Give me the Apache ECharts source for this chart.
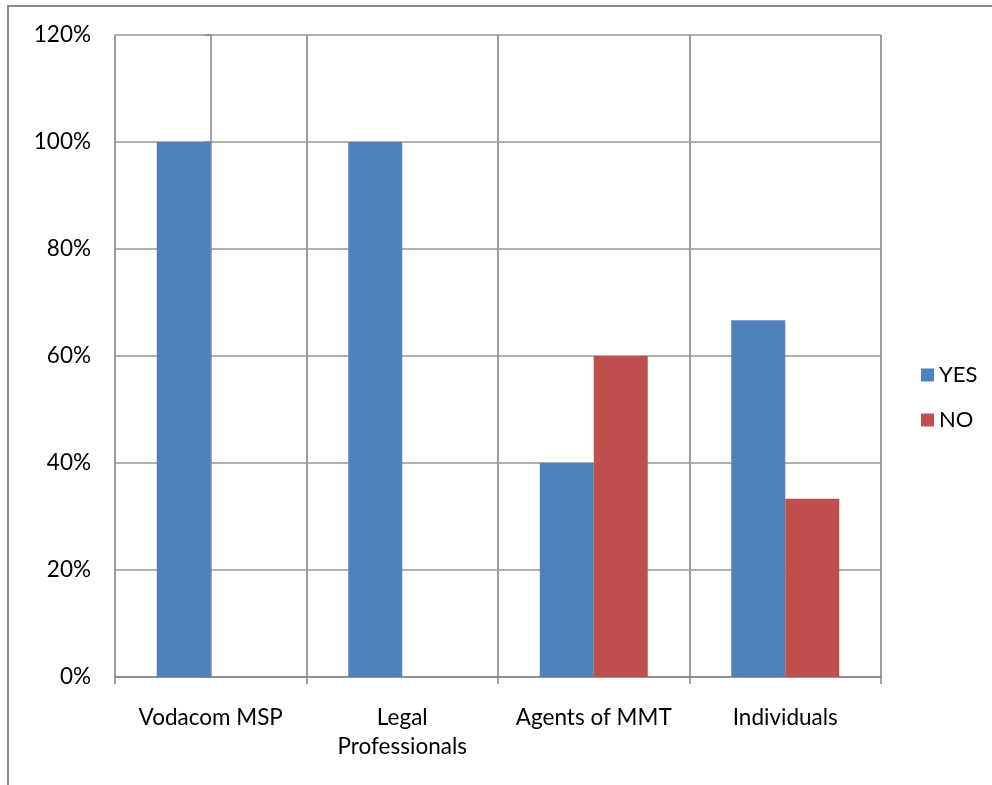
<!DOCTYPE html>
<html>
<head>
<meta charset="utf-8">
<script src="https://cdn.jsdelivr.net/npm/echarts@6/dist/echarts.min.js"></script>
<style>
  html, body { margin: 0; padding: 0; background: #ffffff; }
  #chart { width: 992px; height: 785px; }
</style>
</head>
<body>
<div id="chart"></div>
<script>
// Survey groups and the share answering YES / NO (percent)
const categories = ['Vodacom MSP', 'Legal\nProfessionals', 'Agents of MMT', 'Individuals'];
const yesValues = [100, 100, 40, 66.67];
const noValues = [0, 0, 60, 33.33];
const seriesNames = ['YES', 'NO'];
const yTicks = [0, 20, 40, 60, 80, 100, 120];

const FONT = 'Lato, "Open Sans", sans-serif';
const chart = echarts.init(document.getElementById('chart'));

chart.setOption({
  backgroundColor: '#ffffff',
  animation: false,
  textStyle: { fontFamily: FONT },
  graphic: [{
    type: 'rect',
    shape: { x: 8, y: 6, width: 1000, height: 800 },
    style: { fill: 'none', stroke: '#8a8a8a', lineWidth: 2 },
    silent: true,
    z: -10
  }],
  grid: { left: 115, right: 111, top: 35, bottom: 108, containLabel: false },
  legend: {
    orient: 'vertical',
    left: 921,
    top: 364,
    padding: 0,
    itemWidth: 13,
    itemHeight: 13,
    itemGap: 23,
    icon: 'rect',
    textStyle: { fontFamily: FONT, fontSize: 22, color: '#000000', lineHeight: 22 },
    data: seriesNames
  },
  xAxis: [{
    type: 'category',
    data: categories,
    boundaryGap: true,
    axisLine: { lineStyle: { color: '#868686', width: 1.5 } },
    axisTick: { show: true, length: 7, interval: 0, lineStyle: { color: '#868686', width: 1.5 } },
    axisLabel: {
      interval: 0, margin: 26, color: '#000000', fontSize: 22.5, fontFamily: FONT,
      lineHeight: 29
    },
    splitLine: { show: true, interval: 0, lineStyle: { color: '#8c8c8c', width: 1.5 } },
    z: 3
  }, {
    // lighter guide lines through the middle of each group
    type: 'value',
    min: -0.5,
    max: 3.5,
    interval: 1,
    position: 'bottom',
    axisLine: { show: false },
    axisTick: { show: false },
    axisLabel: { show: false },
    splitLine: { show: true, lineStyle: { color: '#c0c0c0', width: 1.5 } },
    z: 1
  }],
  yAxis: {
    type: 'value',
    min: 0,
    max: 120,
    interval: 20,
    axisLine: { show: true, lineStyle: { color: '#868686', width: 1.5 } },
    axisTick: { show: true, length: 6, lineStyle: { color: '#868686', width: 1.5 } },
    axisLabel: {
      margin: 24, color: '#000000', fontSize: 22.5, fontFamily: FONT,
      formatter: v => (yTicks.includes(v) ? v + '%' : '')
    },
    splitLine: { show: true, lineStyle: { color: '#969696', width: 1.5 } }
  },
  series: [{
    name: seriesNames[0],
    type: 'bar',
    xAxisIndex: 0,
    data: yesValues,
    barGap: '0%',
    barCategoryGap: '43.6%',
    itemStyle: { color: '#4F81BD' },
    z: 5
  }, {
    name: seriesNames[1],
    type: 'bar',
    xAxisIndex: 0,
    data: noValues,
    barGap: '0%',
    barCategoryGap: '43.6%',
    itemStyle: { color: '#C0504D' },
    z: 5
  }]
});
</script>
</body>
</html>
